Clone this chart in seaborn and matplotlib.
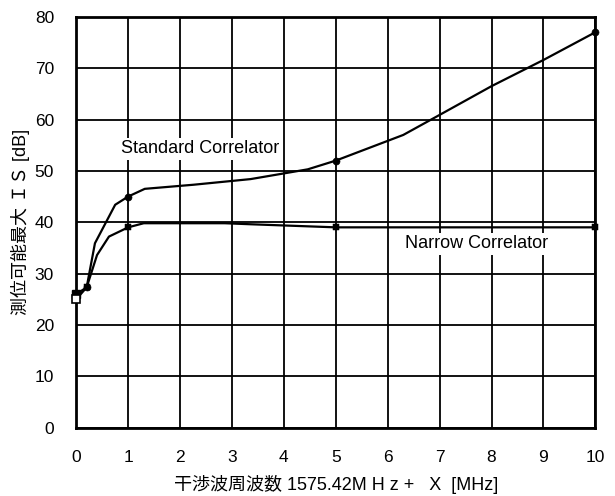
import numpy as np
import pandas as pd
import matplotlib
matplotlib.use("Agg")
import matplotlib.pyplot as plt
import seaborn as sns

# 曲線の頂点
std_x = [0.0, 0.2, 0.36, 0.75, 1.0, 1.32, 2.26, 3.36, 4.46, 5.0, 6.3, 7.0, 8.0, 9.0, 10.0]
std_y = [26.0, 27.3, 35.9, 43.4, 45.0, 46.5, 47.3, 48.4, 50.3, 52.0, 57.0, 60.9, 66.5, 71.6, 77.0]
nar_x = [0.0, 0.2, 0.4, 0.63, 1.0, 1.3, 2.86, 3.36, 5.0, 10.0]
nar_y = [25.0, 27.3, 33.6, 37.2, 39.0, 39.8, 39.8, 39.6, 39.0, 39.0]

# マーカー位置
std_mx = [0.2, 1.0, 5.0, 10.0]
std_my = [27.3, 45.0, 52.0, 77.0]
nar_mx = [0.2, 1.0, 5.0, 10.0]
nar_my = [27.3, 39.0, 39.0, 39.0]

x_ticks = list(range(0, 11))
y_ticks = list(range(0, 81, 10))

sns.set_theme(style="white")
plt.rcParams['font.family'] = ['Liberation Sans', 'Noto Sans CJK JP', 'DejaVu Sans']
plt.rcParams['text.color'] = 'black'

fig, ax = plt.subplots(figsize=(6.15, 4.96), dpi=100)
fig.subplots_adjust(left=0.124, right=0.968, top=0.966, bottom=0.138)

df_std = pd.DataFrame({"x": std_x, "y": std_y})
df_nar = pd.DataFrame({"x": nar_x, "y": nar_y})
sns.lineplot(data=df_std, x="x", y="y", color="black", lw=1.6, sort=False, ax=ax)
sns.lineplot(data=df_nar, x="x", y="y", color="black", lw=1.6, sort=False, ax=ax)

sns.scatterplot(x=std_mx, y=std_my, color="black", s=26, edgecolor="black", ax=ax,
                zorder=5, clip_on=False)
sns.scatterplot(x=nar_mx, y=nar_my, color="black", s=20, marker="s", edgecolor="black", ax=ax,
                zorder=5, clip_on=False)
ax.plot([std_x[0]], [std_y[0]], marker="s", ms=6, color="black", zorder=6, clip_on=False)
ax.plot([nar_x[0]], [nar_y[0]], marker="s", ms=6, mfc="white", mec="black", mew=1.2,
        zorder=6, clip_on=False)

ax.set_xlim(0, 10)
ax.set_ylim(0, 80)
ax.set_xticks(x_ticks)
ax.set_yticks(y_ticks)
ax.grid(True, color="black", lw=1.3)
ax.set_axisbelow(True)
for s in ax.spines.values():
    s.set_color("black")
    s.set_linewidth(2)
ax.tick_params(direction="in", length=4, width=1, colors="black", labelsize=12.5)
ax.tick_params(axis="x", pad=16)
ax.tick_params(axis="y", pad=16)

box = dict(facecolor="white", edgecolor="none", pad=2)
ax.text(0.87, 54.3, "Standard Correlator", fontsize=13, va="center", color="black", bbox=box)
ax.text(6.33, 35.8, "Narrow Correlator", fontsize=13, va="center", color="black", bbox=box)

ax.set_xlabel("干渉波周波数 1575.42M H z +   X  [MHz]", fontsize=13, color="black", labelpad=7)
ax.set_ylabel("測位可能最大 ＩＳ [dB]", fontsize=13, color="black", labelpad=3)

fig.savefig("out.png", dpi=100)
